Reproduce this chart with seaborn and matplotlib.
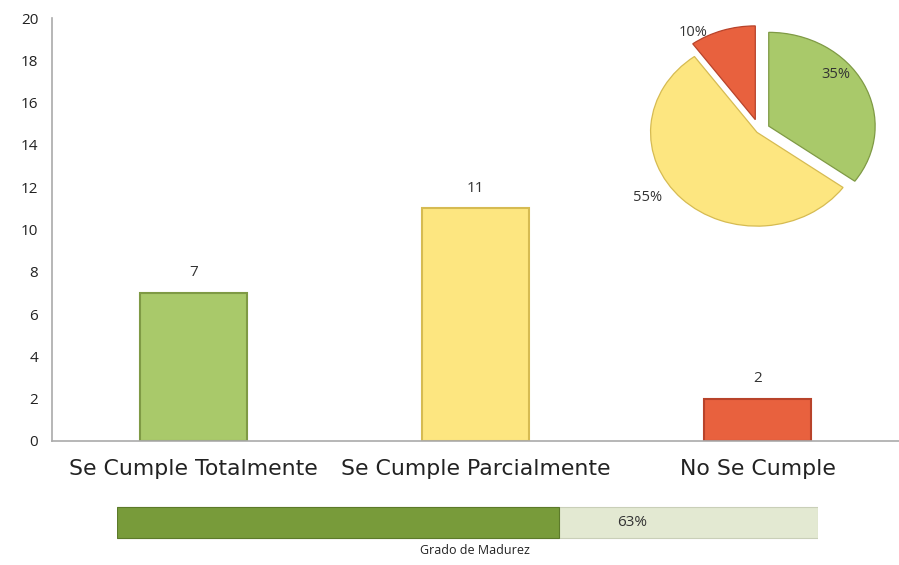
import numpy as np
import pandas as pd
import seaborn as sns
import matplotlib.pyplot as plt

categories = ["Se Cumple Totalmente", "Se Cumple Parcialmente", "No Se Cumple"]
counts = [7, 11, 2]
pie_vals = [35, 55, 10]
pie_labels = ["35%", "55%", "10%"]
maturity = 63
maturity_label = "Grado de Madurez"

bar_colors = ["#A9C96A", "#FDE680", "#E8613E"]
edge_colors = ["#7F9A45", "#D6BB52", "#B8432A"]

sns.set_style("white")
plt.rcParams["font.family"] = ["Open Sans", "DejaVu Sans"]

fig = plt.figure(figsize=(8.99, 5.65), dpi=100)
ax = fig.add_axes([0.058, 0.2195, 0.942, 0.7485])

df = pd.DataFrame({"cat": categories, "n": counts})
sns.barplot(data=df, x="cat", y="n", hue="cat", palette=bar_colors, saturation=1,
            width=0.38, legend=False, ax=ax)
for patch, ec in zip(ax.patches, edge_colors):
    patch.set_edgecolor(ec)
    patch.set_linewidth(1.5)

for i, v in enumerate(counts):
    ax.text(i, v + 0.6, str(v), ha="center", va="bottom", fontsize=11, color="#333333")

ax.set_ylim(0, 20)
ax.set_xlim(-0.5, 2.5)
ax.set_yticks(range(0, 21, 2))
ax.set_xlabel("")
ax.set_ylabel("")
ax.set_xticks(range(len(categories)))
ax.set_xticklabels(categories, fontfamily="DejaVu Sans", fontsize=15.8, color="#222222")
ax.tick_params(axis="y", labelsize=11, length=4, color="#999999", labelcolor="#222222", pad=6)
ax.tick_params(axis="x", length=0, pad=13)
ax.set_xticks([0.5, 1.5], minor=True)
ax.tick_params(axis="x", which="minor", length=5, color="#999999")
sns.despine(ax=ax)
for s in ["left", "bottom"]:
    ax.spines[s].set_color("#AAAAAA")
    ax.spines[s].set_linewidth(1.2)

# pie inset
pax = fig.add_axes([0.7025, 0.595, 0.29, 0.39])
wedges, texts = pax.pie(pie_vals, colors=bar_colors, startangle=90, counterclock=False,
                        explode=[0.1, 0.03, 0.12], radius=1.0)
for w, ec in zip(wedges, edge_colors):
    w.set_edgecolor(ec)
    w.set_linewidth(0.9)
pax.text(0.72, 0.6, pie_labels[0], ha="center", va="center", fontsize=10.5, color="#333333")
pax.text(-1.05, -0.72, pie_labels[1], ha="center", va="center", fontsize=10.5, color="#333333")
pax.text(-0.62, 1.04, pie_labels[2], ha="center", va="center", fontsize=10.5, color="#333333")
pax.set_xlim(-1.2, 1.25)
pax.set_ylim(-1.05, 1.3)
pax.set_aspect("auto")
pax.axis("off")

# maturity bar
bax = fig.add_axes([0.13, 0.045, 0.78, 0.06])
bax.set_xlim(0, 100)
bax.set_ylim(0, 1)
bax.axis("off")
bax.barh([0.5], [100], height=0.9, color="#E3E9D2", edgecolor="#C9CFB8", linewidth=0.8)
bax.barh([0.5], [maturity], height=0.9, color="#789B3A", edgecolor="#5C7A2A", linewidth=0.8)
bax.text(73.5, 0.5, f"{maturity}%", ha="center", va="center", fontsize=11, color="#333333")
fig.text(0.528, 0.025, maturity_label, ha="center", va="center", fontsize=9, color="#222222")

fig.savefig("out.png", dpi=100)
